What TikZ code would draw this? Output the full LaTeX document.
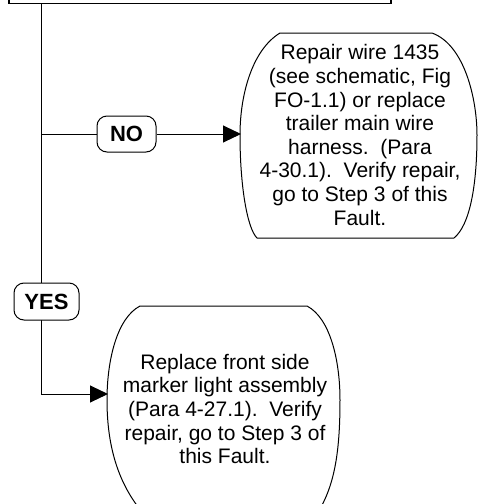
\documentclass[tikz,border=0pt]{standalone}
\usepackage{fontspec}
\setmainfont{Liberation Sans}
\usetikzlibrary{arrows.meta}
\begin{document}
\begin{tikzpicture}[x=1pt,y=-1pt,
  line width=1pt,
  lbl/.style={draw,rounded corners=10pt,fill=white,inner sep=0pt,
    font=\fontsize{22}{26}\selectfont\bfseries},
  body/.style={align=center,inner sep=0pt,font=\fontsize{21}{23.6}\selectfont},
  arr/.style={-{Triangle[length=18pt,width=17pt]}},
  shp/.style={draw,fill=white}]
\useasboundingbox (0,0) rectangle (478,504);
% top box
\node (top) [draw,line width=1.5pt,anchor=south west,minimum width=382pt,minimum height=40pt,inner sep=0pt] at (8,4) {};
% shapes
\draw[shp] (280,33) -- (432,33) .. controls (465,45) and (477,100) .. (477,135)
  .. controls (477,185) and (470,225) .. (454,238) -- (257,238)
  .. controls (247,228) and (240,185) .. (240,135)
  .. controls (240,95) and (252,50) .. (280,33) -- cycle;
\draw[shp] (140,306) -- (307,306) .. controls (330,318) and (340,360) .. (340,400)
  .. controls (340,450) and (335,485) .. (318,512) -- (142,512)
  .. controls (120,485) and (107,450) .. (107,400)
  .. controls (107,360) and (117,318) .. (140,306) -- cycle;
\node (rtext) [body] at (360,135) {Repair wire 1435\\ (see schematic, Fig\\ FO-1.1) or replace\\ trailer main wire\\ harness.\ \ (Para\\ 4-30.1).\ \ Verify repair,\\ go to Step 3 of this\\ Fault.};
\node (btext) [body] at (225,409) {Replace front side\\ marker light assembly\\ (Para 4-27.1).\ \ Verify\\ repair, go to Step 3 of\\ this Fault.};
% coordinates
\coordinate (vtop) at (41,4);
\coordinate (corner) at (41,394);
\coordinate (noin) at (41,134);
\coordinate (rin) at (241,134);
\coordinate (bin) at (108,394);
% connectors
\draw[arr] (vtop) -- (corner) -- (bin);
\node (no) [lbl,minimum width=59pt,minimum height=36pt] at (126.5,134) {NO};
\draw (noin) -- (no);
\draw[arr] (no) -- (rin);
\node (yes) [lbl,minimum width=65pt,minimum height=37pt] at (46.5,301.5) {YES};
\end{tikzpicture}
\end{document}
